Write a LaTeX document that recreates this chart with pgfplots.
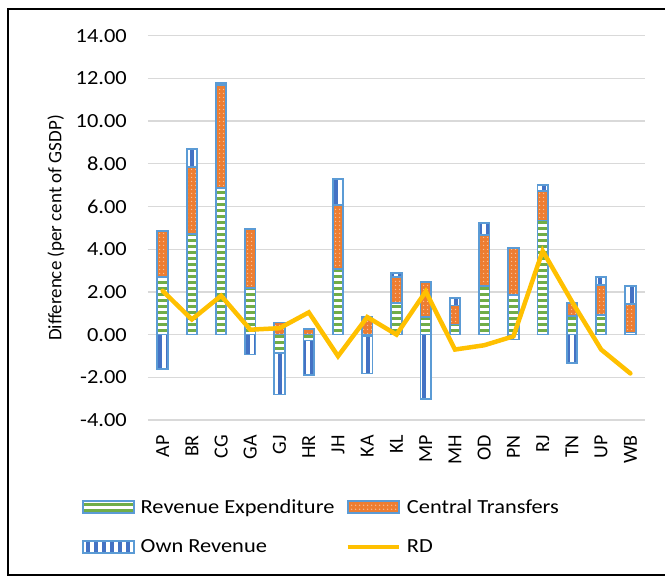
\documentclass[border=0pt]{standalone}
\usepackage{fontspec}
\setmainfont{Carlito}[FakeStretch=1.12]
\newfontfamily\rotfont{Carlito}
\usepackage{pgfplots}
\pgfplotsset{compat=1.18}
\usetikzlibrary{patterns.meta}
\definecolor{reGreen}{HTML}{70AD47}
\definecolor{ctOrange}{HTML}{ED7D31}
\definecolor{ctDot}{HTML}{F6BE98}
\definecolor{orBlue}{HTML}{4472C4}
\definecolor{barEdge}{HTML}{5B9BD5}
\definecolor{rdGold}{HTML}{FFC000}
\definecolor{gridGray}{HTML}{D9D9D9}

\pgfplotsset{
  base/.style={at={(148pt,157pt)}, anchor=south west, width=497pt, height=384.3pt,
    scale only axis, xmin=-0.5, xmax=16.5, ymin=-4, ymax=14},
  reStyle/.style={draw=barEdge, line width=1.8pt, fill=white,
    postaction={pattern={Lines[angle=0,distance=6pt,line width=3pt]}, pattern color=reGreen}},
  ctStyle/.style={draw=barEdge, line width=1.8pt, fill=ctOrange,
    postaction={pattern={Dots[distance=4pt,radius=0.9pt]}, pattern color=ctDot}},
  orStyle/.style={draw=barEdge, line width=1.8pt, fill=white,
    postaction={pattern={Lines[angle=90,distance=8pt,line width=4pt]}, pattern color=orBlue}},
  barleg/.style={legend image code/.code={\draw[##1] (0pt,-6pt) rectangle (51pt,6pt);}},
  rdleg/.style={legend image code/.code={\draw[##1] (0pt,0pt) -- (51pt,0pt);}},
}

\begin{document}
\begin{tikzpicture}
\useasboundingbox (0,0) rectangle (665pt,577pt);
\draw[line width=2pt, black] (666pt,568pt) -- (8pt,568pt) -- (8pt,2pt) -- (666pt,2pt);
\node[rotate=90, inner sep=0pt, font=\rotfont\fontsize{19}{23}\selectfont] at (56pt,349pt) {Difference (per cent of GSDP)};

% positive parts + grid + labels + legend
\begin{axis}[base,
  ybar stacked, bar width=10.5pt,
  axis line style={draw=none}, major tick length=0pt, tick style={draw=none},
  ymajorgrids, grid style={gridGray, line width=1.3pt},
  ytick={-4,-2,...,14},
  yticklabel={\pgfmathprintnumber[fixed,fixed zerofill,precision=2,assume math mode=true]{\tick}},
  xtick={0,...,16},
  xticklabels={AP,BR,CG,GA,GJ,HR,JH,KA,KL,MP,MH,OD,PN,RJ,TN,UP,WB},
  xticklabel style={rotate=90, anchor=east, inner sep=0pt, font=\rotfont\fontsize{20}{24}\selectfont},
  yticklabel style={anchor=east, inner sep=0pt, font=\fontsize{20}{24}\selectfont},
  xticklabel shift=15pt, yticklabel shift=21pt,
  legend columns=2,
  legend cell align=left,
  legend style={draw=none, fill=none, inner sep=0pt, outer sep=0pt,
    at={(axis description cs:-0.133,-0.206)}, anchor=north west,
    font=\fontsize{20}{24}\selectfont,
    nodes={inner sep=0pt},
    row sep=25pt, column sep=0pt,
    /tikz/every odd column/.append style={column sep=6pt},
    /tikz/every even column/.append style={column sep=11pt}},
]
\addplot[reStyle, barleg] coordinates {(0,2.68) (1,4.70) (2,6.85) (3,2.18) (4,0) (5,0) (6,3.07) (7,0) (8,1.48) (9,0.82) (10,0.47) (11,2.26) (12,1.87) (13,5.34) (14,0.86) (15,0.93) (16,0.10)};
\addlegendentry{Revenue Expenditure}
\addplot[ctStyle, barleg] coordinates {(0,2.18) (1,3.16) (2,4.85) (3,2.77) (4,0.57) (5,0.28) (6,3.00) (7,0.81) (8,1.21) (9,1.64) (10,0.89) (11,2.42) (12,2.19) (13,1.40) (14,0.62) (15,1.40) (16,1.35)};
\addlegendentry{Central Transfers}
\addplot[orStyle, barleg] coordinates {(0,0) (1,0.82) (2,0.08) (3,0) (4,0) (5,0) (6,1.21) (7,0) (8,0.19) (9,0) (10,0.36) (11,0.55) (12,0) (13,0.26) (14,0) (15,0.35) (16,0.84)};
\addlegendentry{Own Revenue}
\addlegendimage{rdGold, line width=4.5pt, rdleg}
\addlegendentry{RD}
\end{axis}

% negative parts
\begin{axis}[base, hide axis, ybar stacked, bar width=10.5pt]
\addplot[reStyle] coordinates {(0,0) (1,0) (2,0) (3,0) (4,-0.88) (5,-0.28) (6,0) (7,-0.05) (8,0) (9,0) (10,0) (11,0) (12,0) (13,0) (14,0) (15,0) (16,0)};
\addplot[orStyle] coordinates {(0,-1.63) (1,0) (2,0) (3,-0.93) (4,-1.93) (5,-1.63) (6,0) (7,-1.77) (8,0) (9,-3.03) (10,0) (11,0) (12,-0.23) (13,0) (14,-1.32) (15,0) (16,0)};
\end{axis}

% RD line
\begin{axis}[base, hide axis]
\addplot[rdGold, line width=4.5pt, line cap=round, mark=none] coordinates {(0,2.05) (1,0.71) (2,1.82) (3,0.23) (4,0.30) (5,1.04) (6,-1.01) (7,0.82) (8,0.00) (9,2.02) (10,-0.70) (11,-0.50) (12,-0.08) (13,3.92) (14,1.55) (15,-0.70) (16,-1.82)};
\end{axis}
\end{tikzpicture}
\end{document}
